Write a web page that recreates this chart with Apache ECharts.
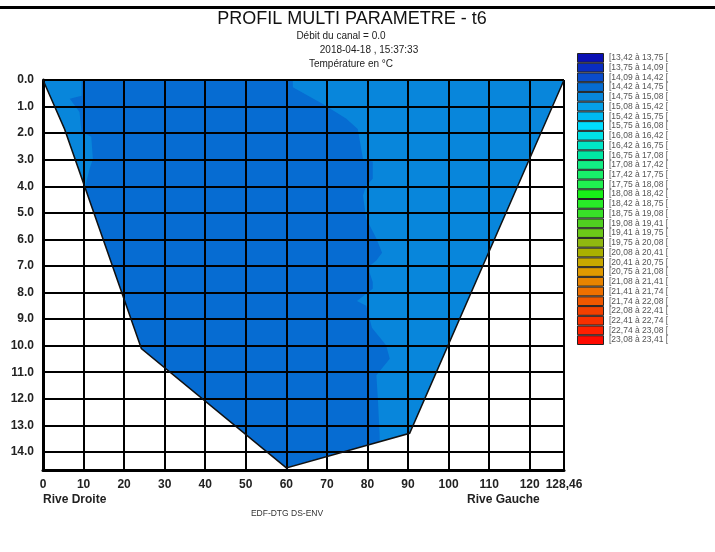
<!DOCTYPE html>
<html><head><meta charset="utf-8">
<script src="https://cdn.jsdelivr.net/npm/echarts@6/dist/echarts.min.js"></script>
<style>html,body{margin:0;padding:0;background:#fff}#c{width:715px;height:552px}</style>
</head><body><div id="c"></div>
<script>
// ---- data ----
const classBounds = ['13,42','13,75','14,09','14,42','14,75','15,08','15,42','15,75','16,08','16,42','16,75','17,08','17,42','17,75','18,08','18,42','18,75','19,08','19,41','19,75','20,08','20,41','20,75','21,08','21,41','21,74','22,08','22,41','22,74','23,08','23,41'];
const classColors = ['#0A10B4','#0A2DC0','#0A4CCB','#066CD2','#0886DB','#06A0E8','#00BAF2','#00DDFF','#00E2E6','#00E6C8','#00E8A4','#12EE84','#18F06A','#20F050','#18F018','#28EC28','#38E028','#50D020','#6CC818','#90B810','#AAB000','#C8A800','#E09A00','#E88400','#EE7000','#F05800','#F24000','#F83000','#FF2000','#FF0A00'];
const xMax = 128.46;
const depthMax = 14.68;
// cross-section (bank profile): [distance, depth]
const sectionProfile = [[0,0],[5.3,1.84],[24.25,10.11],[60.0,14.6],[90.4,13.3],[128.46,0]];
// zones in class 14,75 - 15,08 (index 4); the rest of the section is class 14,42 - 14,75 (index 3)
const zoneLeftLight = [[0,0],[9.5,0],[9.5,0.59],[6.6,0.71],[9.0,1.2],[9.5,1.95],[11.9,2.14],[12.3,2.97],[11.5,3.34],[10.7,3.83],[10.4,4.05],[5.3,1.84]];
const zoneRightLight = [[61.6,0],[61.6,0.27],[69.0,0.9],[74.8,1.46],[77.6,1.84],[78.9,2.97],[81.3,3.08],[81.3,3.72],[79.7,3.97],[78.9,4.35],[79.7,5.22],[82.2,5.97],[83.6,6.5],[82.2,6.79],[80.5,7.0],[80.5,7.24],[81.3,7.6],[81.3,7.86],[77.4,8.32],[79.7,8.5],[81.1,9.33],[84.6,9.98],[85.5,10.49],[82.2,11.11],[82.6,12.1],[83.0,13.37],[83.0,13.62],[90.4,13.3],[128.46,0]];
const baseClass = 3;
const lightClass = 4;

const FONT = 'Liberation Sans, Arial, sans-serif';
const legendLabels = classColors.map((c, i) => '[' + classBounds[i] + ' à ' + classBounds[i + 1] + ' [');
const polygons = [
  { pts: sectionProfile, fill: classColors[baseClass] },
  { pts: zoneLeftLight, fill: classColors[lightClass] },
  { pts: zoneRightLight, fill: classColors[lightClass] }
];

const chart = echarts.init(document.getElementById('c'), null, { renderer: 'canvas' });
chart.setOption({
  animation: false,
  backgroundColor: '#fff',
  textStyle: { fontFamily: FONT },
  graphic: [
    { type: 'rect', shape: { x: 0, y: 6, width: 715, height: 3 }, style: { fill: '#000' } },
    { type: 'text', x: 352, y: 19, style: { text: 'PROFIL MULTI PARAMETRE - t6', font: '18px ' + FONT, fill: '#111', textAlign: 'center', textVerticalAlign: 'middle' } },
    { type: 'text', x: 341, y: 36, style: { text: 'Débit du canal = 0.0', font: '10px ' + FONT, fill: '#222', textAlign: 'center', textVerticalAlign: 'middle' } },
    { type: 'text', x: 369, y: 50, style: { text: '2018-04-18 , 15:37:33', font: '10px ' + FONT, fill: '#222', textAlign: 'center', textVerticalAlign: 'middle' } },
    { type: 'text', x: 351, y: 64, style: { text: 'Température en °C', font: '10px ' + FONT, fill: '#222', textAlign: 'center', textVerticalAlign: 'middle' } },
    { type: 'text', x: 43, y: 500, style: { text: 'Rive Droite', font: 'bold 12px ' + FONT, fill: '#222', textAlign: 'left', textVerticalAlign: 'middle' } },
    { type: 'text', x: 467, y: 500, style: { text: 'Rive Gauche', font: 'bold 12px ' + FONT, fill: '#222', textAlign: 'left', textVerticalAlign: 'middle' } },
    { type: 'text', x: 287, y: 514, style: { text: 'EDF-DTG DS-ENV', font: '8.5px ' + FONT, fill: '#333', textAlign: 'center', textVerticalAlign: 'middle' } }
  ],
  grid: [
    { left: 43, top: 80, width: 521, height: 390, show: true, borderColor: '#444', borderWidth: 1, backgroundColor: 'transparent' },
    { left: 577, top: 53, width: 27, height: 292 }
  ],
  xAxis: [
    {
      gridIndex: 0, type: 'value', min: 0, max: xMax, interval: 10, z: 3,
      axisLine: { show: true, onZero: false, lineStyle: { color: '#000', width: 3 } },
      axisTick: { show: false },
      splitLine: { show: true, lineStyle: { color: '#000', width: 2 } },
      axisLabel: { show: true, margin: 9, fontSize: 12, fontWeight: 'bold', color: '#222', fontFamily: FONT, showMaxLabel: true, showMinLabel: true,
        formatter: v => (Math.abs(v - xMax) < 1e-6 ? String(xMax).replace('.', ',') : String(v)) }
    },
    { gridIndex: 1, type: 'value', min: 0, max: 1, show: false }
  ],
  yAxis: [
    {
      gridIndex: 0, type: 'value', inverse: true, min: 0, max: depthMax, interval: 1, z: 3,
      axisLine: { show: true, onZero: false, lineStyle: { color: '#000', width: 3 } },
      axisTick: { show: false },
      splitLine: { show: true, lineStyle: { color: '#000', width: 2 } },
      axisLabel: { margin: 9, fontSize: 12, fontWeight: 'bold', color: '#222', fontFamily: FONT, showMaxLabel: false,
        formatter: v => v.toFixed(1) }
    },
    {
      gridIndex: 1, type: 'category', inverse: true, position: 'right', data: legendLabels,
      axisLine: { show: false }, axisTick: { show: false }, splitLine: { show: false },
      axisLabel: { margin: 5, fontSize: 8.5, color: '#555', fontFamily: FONT, interval: 0 }
    }
  ],
  series: [
    {
      type: 'custom', xAxisIndex: 0, yAxisIndex: 0, z: 1, silent: true, clip: true,
      data: polygons.map((p, i) => i),
      renderItem: (params, api) => {
        const p = polygons[params.dataIndex];
        return { type: 'polygon', shape: { points: p.pts.map(pt => api.coord(pt)) }, style: { fill: p.fill } };
      }
    },
    {
      type: 'custom', xAxisIndex: 0, yAxisIndex: 0, z: 4, silent: true, clip: false,
      data: [0],
      renderItem: (params, api) => ({
        type: 'polyline', shape: { points: sectionProfile.map(pt => api.coord(pt)) },
        style: { fill: null, stroke: '#111', lineWidth: 1.5 }
      })
    },
    {
      type: 'bar', xAxisIndex: 1, yAxisIndex: 1, silent: true, barWidth: '100%', barCategoryGap: 0,
      itemStyle: { borderColor: '#222', borderWidth: 1 },
      data: classColors.map(c => ({ value: 1, itemStyle: { color: c } }))
    }
  ]
});
</script></body></html>
